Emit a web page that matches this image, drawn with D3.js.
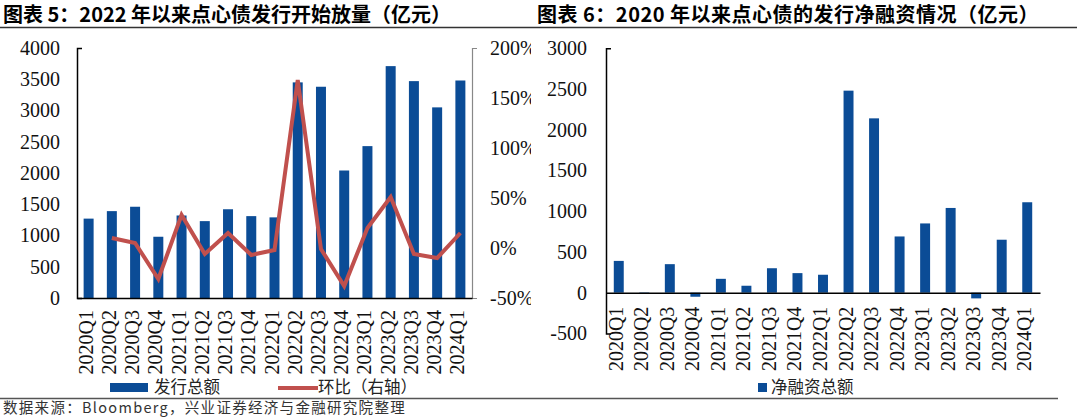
<!DOCTYPE html>
<html>
<head>
<meta charset="utf-8">
<script src="https://cdn.jsdelivr.net/npm/d3@7"></script>
<style>
  body { margin: 0; background: #fff; }
  svg { display: block; }
</style>
</head>
<body>
<div id="chart"></div>
<script>
// quarters shared by both panels
const quarters = ["2020Q1","2020Q2","2020Q3","2020Q4","2021Q1","2021Q2","2021Q3","2021Q4",
                  "2022Q1","2022Q2","2022Q3","2022Q4","2023Q1","2023Q2","2023Q3","2023Q4","2024Q1"];
// left panel: issuance (100m yuan) and quarter-on-quarter change (%)
const issueAmt = [1270,1390,1460,980,1320,1230,1420,1310,1290,3450,3380,2040,2430,3710,3470,3050,3480];
const qoqPct = [null,10,5,-31,33,-6,15,-7,-2,168,-1,-38,20,51,-6,-10,15];
const leftTicks = [0,500,1000,1500,2000,2500,3000,3500,4000];
const pctTicks = [-50,0,50,100,150,200];
// right panel: net financing
const netFinancing = [390,5,350,-50,170,85,300,240,220,2480,2140,690,850,1040,-70,650,1110];
const netTicks = [-500,0,500,1000,1500,2000,2500,3000];

const width = 1080, height = 417;
const blue = "#0b4c96", red = "#c0504d";
const serif = "'Liberation Serif', 'Times New Roman', serif";
const cjk = "'Noto Sans CJK SC', sans-serif";

let svg = d3.select('#chart')
            .append('svg')
            .attr('width', width)
            .attr('height', height)
            .style('background', '#fff');

svg.append('defs').append('clipPath')
    .attr('id', 'leftClip')
    .append('rect')
    .attr('x', 0).attr('y', 0)
    .attr('width', 531).attr('height', height);

// titles
svg.append('text')
    .attr('x', 3).attr('y', 22)
    .style('font-family', cjk).style('font-size', '20px').style('font-weight', 'bold')
    .text('图表 5：2022 年以来点心债发行开始放量（亿元）');
svg.append('text')
    .attr('x', 537).attr('y', 22)
    .style('font-family', cjk).style('font-size', '20px').style('font-weight', 'bold')
    .style('letter-spacing', '0.5px')
    .text('图表 6：2020 年以来点心债的发行净融资情况（亿元）');
svg.append('line')
    .attr('x1', 0).attr('x2', 1077).attr('y1', 27.5).attr('y2', 27.5)
    .attr('stroke', '#333').attr('stroke-width', 1.5);

// footer
svg.append('line')
    .attr('x1', 0).attr('x2', 1058).attr('y1', 398.5).attr('y2', 398.5)
    .attr('stroke', '#555').attr('stroke-width', 1.5);
svg.append('text')
    .attr('x', 3).attr('y', 412.5)
    .style('font-family', cjk).style('font-size', '14.5px').attr('fill', '#333')
    .style('letter-spacing', '1.3px')
    .text('数据来源：Bloomberg，兴业证券经济与金融研究院整理');

function styleTicks(g) {
  g.selectAll('text')
    .style('font-family', serif)
    .style('font-size', '20px')
    .attr('fill', '#111');
}

function rotateLabels(g, offset) {
  g.selectAll('text')
    .attr('transform', 'rotate(-90)')
    .attr('x', -offset)
    .attr('y', 0)
    .attr('dy', '0.2em')
    .style('text-anchor', 'end');
}

// ---------- left panel ----------
let x0 = d3.scaleBand()
    .domain(quarters)
    .range([77, 472])
    .paddingInner(0.57)
    .paddingOuter(0.285);

let yLeft = d3.scaleLinear().domain([0, 4000]).range([298, 48]);
let yPct = d3.scaleLinear().domain([-50, 200]).range([298, 48]);

svg.append('g')
    .selectAll('rect')
    .data(issueAmt)
    .enter()
    .append('rect')
    .attr('x', (d, i) => x0(quarters[i]))
    .attr('y', d => yLeft(d))
    .attr('width', x0.bandwidth())
    .attr('height', d => yLeft(0) - yLeft(d))
    .attr('fill', blue);

let qoqLine = d3.line()
    .defined(d => d !== null)
    .x((d, i) => x0(quarters[i]) + x0.bandwidth() / 2)
    .y(d => yPct(d));

svg.append('path')
    .datum(qoqPct)
    .attr('fill', 'none')
    .attr('stroke', red)
    .attr('stroke-width', 4)
    .attr('d', qoqLine);

let leftAxis = svg.append('g')
    .attr('transform', 'translate(77,0)')
    .call(d3.axisLeft(yLeft).tickValues(leftTicks).tickFormat(d => d)
          .tickSizeInner(0).tickSizeOuter(-5).tickPadding(17));
leftAxis.select('.domain').attr('stroke', '#000').attr('stroke-width', 1.5);
styleTicks(leftAxis);

let pctAxis = svg.append('g')
    .attr('clip-path', 'url(#leftClip)')
    .append('g')
    .attr('transform', 'translate(472,0)')
    .call(d3.axisRight(yPct).tickValues(pctTicks).tickFormat(d => d + '%')
          .tickSizeInner(0).tickSizeOuter(5).tickPadding(18));
pctAxis.select('.domain').attr('stroke', '#888').attr('stroke-width', 1.2);
styleTicks(pctAxis);

let bottomLeft = svg.append('g')
    .attr('transform', 'translate(0,298)')
    .call(d3.axisBottom(x0).tickSize(0).tickSizeOuter(0));
bottomLeft.select('.domain').attr('stroke', '#000').attr('stroke-width', 1.5);
styleTicks(bottomLeft);
rotateLabels(bottomLeft, 12);

// left legend
svg.append('rect')
    .attr('x', 110).attr('y', 383).attr('width', 38).attr('height', 9)
    .attr('fill', blue);
svg.append('text')
    .attr('x', 154).attr('y', 392.5)
    .style('font-family', cjk).style('font-size', '16.5px').attr('fill', '#222')
    .text('发行总额');
svg.append('line')
    .attr('x1', 278).attr('x2', 318).attr('y1', 388).attr('y2', 388)
    .attr('stroke', red).attr('stroke-width', 4);
svg.append('text')
    .attr('x', 318).attr('y', 392.5)
    .style('font-family', cjk).style('font-size', '16.5px').attr('fill', '#222')
    .text('环比（右轴）');

// ---------- right panel ----------
let x1 = d3.scaleBand()
    .domain(quarters)
    .range([606, 1040])
    .paddingInner(0.61)
    .paddingOuter(0.305);

let yNet = d3.scaleLinear().domain([-500, 3000]).range([333.4, 48.3]);

svg.append('g')
    .selectAll('rect')
    .data(netFinancing)
    .enter()
    .append('rect')
    .attr('x', (d, i) => x1(quarters[i]))
    .attr('y', d => yNet(Math.max(d, 0)))
    .attr('width', x1.bandwidth())
    .attr('height', d => Math.abs(yNet(d) - yNet(0)))
    .attr('fill', blue);

let netAxis = svg.append('g')
    .attr('transform', 'translate(606,0)')
    .call(d3.axisLeft(yNet).tickValues(netTicks).tickFormat(d => String(d))
          .tickSizeInner(0).tickSizeOuter(-5).tickPadding(19));
netAxis.select('.domain').attr('stroke', '#000').attr('stroke-width', 1.5);
styleTicks(netAxis);

let bottomRight = svg.append('g')
    .attr('transform', `translate(0,${yNet(0)})`)
    .call(d3.axisBottom(x1).tickSize(0).tickSizeOuter(0));
bottomRight.select('.domain').attr('stroke', '#000').attr('stroke-width', 1.5);
styleTicks(bottomRight);
rotateLabels(bottomRight, 14);

// right legend
svg.append('rect')
    .attr('x', 758).attr('y', 383).attr('width', 9).attr('height', 9)
    .attr('fill', blue);
svg.append('text')
    .attr('x', 771).attr('y', 392.5)
    .style('font-family', cjk).style('font-size', '16.5px').attr('fill', '#222')
    .text('净融资总额');
</script>
</body>
</html>
